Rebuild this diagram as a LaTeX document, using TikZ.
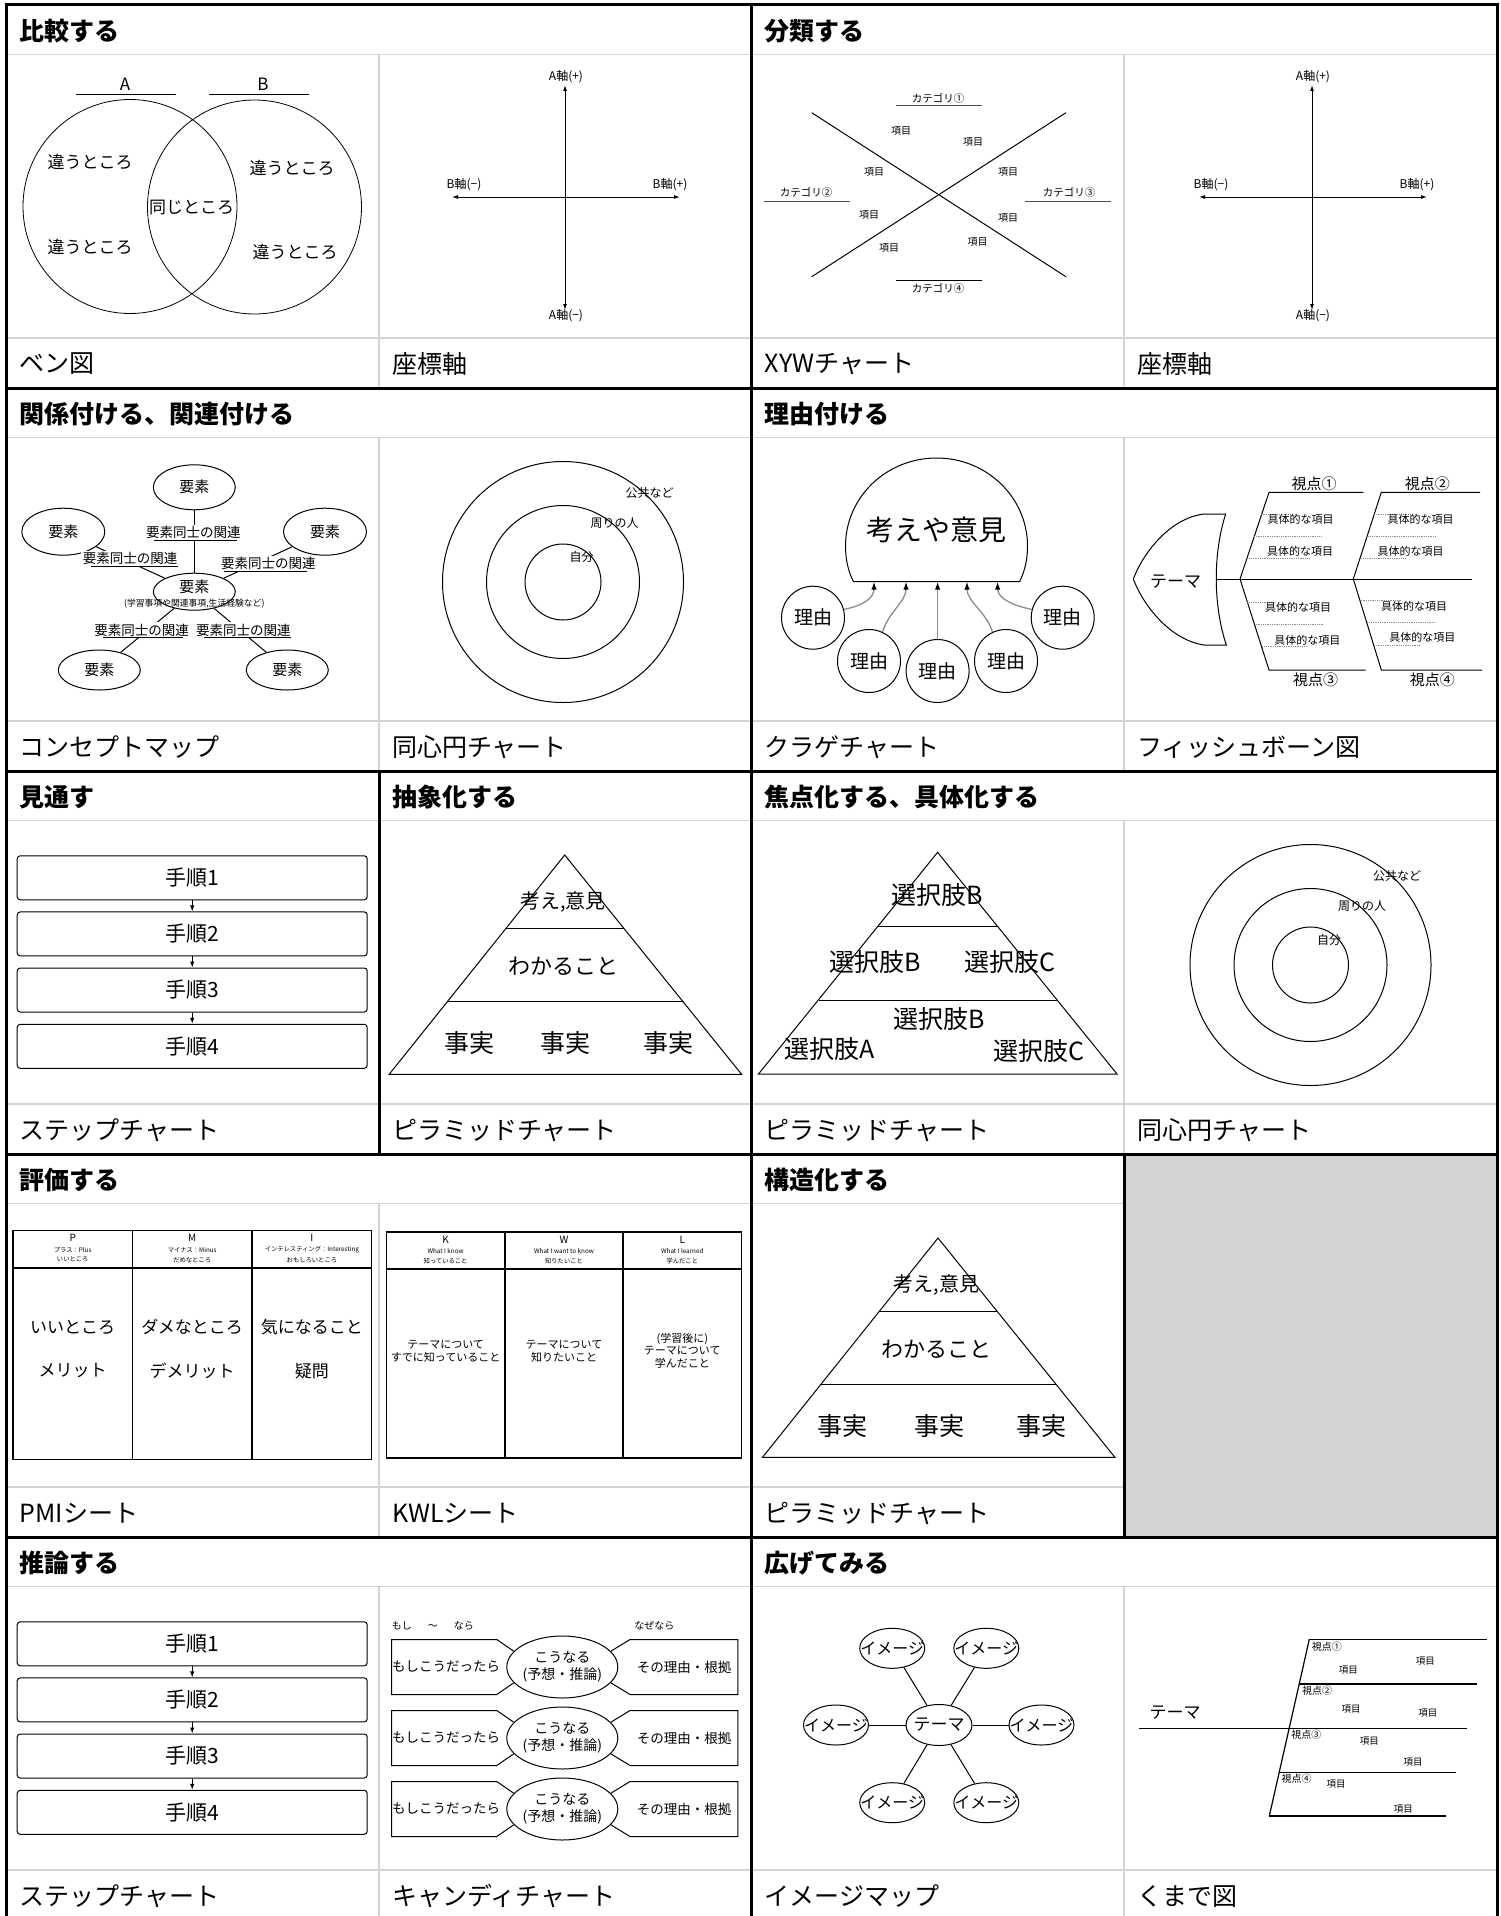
\documentclass[tikz,border=0pt]{standalone}
\usepackage{fontspec}
\setmainfont{Noto Sans CJK JP}
\usetikzlibrary{shapes.geometric,arrows.meta}

\definecolor{rulegray}{RGB}{212,212,212}
\definecolor{cellgray}{RGB}{211,211,211}
\definecolor{stemgray}{RGB}{140,140,140}

\begin{document}
\begin{tikzpicture}[x=1pt, y=-1pt,
  frameline/.style={line width=3pt, line cap=rect},
  lightrule/.style={line width=1.8pt, rulegray},
  heading/.style={anchor=west, inner sep=0pt, font=\bfseries\fontsize{25}{30}\selectfont},
  caption/.style={anchor=west, inner sep=0pt, font=\fontsize{25}{30}\selectfont},
  txt/.style={inner sep=0pt, font=\fontsize{#1}{#1}\selectfont},
  stroke/.style={line width=1pt},
  arrowhd/.style={line width=1pt, -{Latex[length=6pt,width=4.5pt]}},
  jelly/.style={stemgray, line width=1.3pt, -{Latex[length=8pt,width=5.5pt,color=black]}},
  ell/.style={ellipse, draw, line width=1pt, inner sep=0pt},
  rnd/.style={circle, draw, line width=1pt, inner sep=0pt},
  stepbox/.style={draw, line width=1pt, rounded corners=3pt, minimum width=350pt, minimum height=44pt, inner sep=0pt, font=\fontsize{21}{21}\selectfont},
  dotline/.style={densely dotted, line width=0.8pt, stemgray},
  tabline/.style={line width=1.2pt}
]
\useasboundingbox (0,0) rectangle (1501,1916); % page size

% light rules of the sheet
\foreach \ry in {5,388,771,1154,1537} {
  \draw[lightrule] (6,{\ry+49.5}) -- (1497,{\ry+49.5}); % heading rule
  \draw[lightrule] (6,{\ry+333}) -- (1497,{\ry+333}); % caption rule
}
\draw[lightrule] (379,54) -- (379,388); % row 1 split
\draw[lightrule] (1124,54) -- (1124,388);
\draw[lightrule] (379,437) -- (379,771); % row 2 split
\draw[lightrule] (1124,437) -- (1124,771);
\draw[lightrule] (1124,820) -- (1124,1154); % row 3 split
\draw[lightrule] (379,1203) -- (379,1537); % row 4 split
\draw[lightrule] (379,1586) -- (379,1916); % row 5 split
\draw[lightrule] (1124,1586) -- (1124,1916);
\fill[cellgray] (1124,1154) rectangle (1497,1537); % empty cell

% heavy frame
\draw[frameline] (6,5) -- (1497,5);
\draw[frameline] (6,388) -- (1497,388);
\draw[frameline] (6,771) -- (1497,771);
\draw[frameline] (6,1154) -- (1497,1154);
\draw[frameline] (6,1537) -- (1497,1537);
\draw[frameline] (6,5) -- (6,1920);
\draw[frameline] (1497,5) -- (1497,1920);
\draw[frameline] (751,5) -- (751,1920);
\draw[frameline] (379,771) -- (379,1154);
\draw[frameline] (1124,1154) -- (1124,1537);

% headings
\node[heading] (hCompare) at (19.5,31) {比較する};
\node[heading] (hClassify) at (764.5,31) {分類する};
\node[heading] (hRelate) at (19.5,414) {関係付ける、関連付ける};
\node[heading] (hReason) at (764.5,414) {理由付ける};
\node[heading] (hForesee) at (19.5,797) {見通す};
\node[heading] (hAbstract) at (392,797) {抽象化する};
\node[heading] (hFocus) at (764.5,797) {焦点化する、具体化する};
\node[heading] (hEvaluate) at (19.5,1180) {評価する};
\node[heading] (hStructure) at (764.5,1180) {構造化する};
\node[heading] (hInfer) at (19.5,1563) {推論する};
\node[heading] (hExpand) at (764.5,1563) {広げてみる};

% captions
\node[caption] (cVenn) at (19.5,364) {ベン図};
\node[caption] (cAxisL) at (392,364) {座標軸};
\node[caption] (cXYW) at (764.5,364) {XYWチャート};
\node[caption] (cAxisR) at (1137,364) {座標軸};
\node[caption] (cConcept) at (19.5,747) {コンセプトマップ};
\node[caption] (cRingsA) at (392,747) {同心円チャート};
\node[caption] (cJelly) at (764.5,747) {クラゲチャート};
\node[caption] (cFish) at (1137,747) {フィッシュボーン図};
\node[caption] (cStepA) at (19.5,1130) {ステップチャート};
\node[caption] (cPyrA) at (392,1130) {ピラミッドチャート};
\node[caption] (cPyrChoice) at (764.5,1130) {ピラミッドチャート};
\node[caption] (cRingsB) at (1137,1130) {同心円チャート};
\node[caption] (cPMI) at (19.5,1513) {PMIシート};
\node[caption] (cKWL) at (392,1513) {KWLシート};
\node[caption] (cPyrB) at (764.5,1513) {ピラミッドチャート};
\node[caption] (cStepB) at (19.5,1896) {ステップチャート};
\node[caption] (cCandy) at (392,1896) {キャンディチャート};
\node[caption] (cImage) at (764.5,1896) {イメージマップ};
\node[caption] (cRake) at (1137,1896) {くまで図};

% Venn diagram
\node[rnd, line width=0.8pt, minimum size=214pt] (setA) at (130,206.5) {}; % set A
\node[rnd, line width=0.8pt, minimum size=214pt] (setB) at (254.5,207) {}; % set B
\node[txt=17] (nameA) at (125,84) {A};
\draw[stroke] (76,94.5) -- (175.5,94.5); % bar under A
\node[txt=17] (nameB) at (263,84) {B};
\draw[stroke] (209,94.5) -- (309,94.5); % bar under B
\node[txt=17] (onlyA1) at (90,162) {違うところ};
\node[txt=17] (onlyA2) at (90,247) {違うところ};
\node[txt=17] (onlyB1) at (292,168) {違うところ};
\node[txt=17] (onlyB2) at (295,252) {違うところ};
\node[txt=17] (both) at (191.5,207) {同じところ};

% coordinate axes (two copies)
\foreach \dx/\nm in {0/L,747/R} {
  \coordinate (up\nm) at ({565+\dx},85);
  \coordinate (down\nm) at ({565+\dx},310);
  \coordinate (west\nm) at ({452+\dx},197);
  \coordinate (east\nm) at ({680+\dx},197);
  \draw[stroke, {Latex[length=6pt,width=4pt]}-{Latex[length=6pt,width=4pt]}] (down\nm) -- (up\nm); % A axis
  \draw[stroke, {Latex[length=6pt,width=4pt]}-{Latex[length=6pt,width=4pt]}] (west\nm) -- (east\nm); % B axis
  \node[txt=12] (aPlus\nm) at ({566+\dx},77) {A軸(+)};
  \node[txt=12] (aMinus\nm) at ({566+\dx},316) {A軸(−)};
  \node[txt=12] (bMinus\nm) at ({464+\dx},185) {B軸(−)};
  \node[txt=12] (bPlus\nm) at ({670+\dx},185) {B軸(+)};
}

% XYW chart
\draw[stroke] (811.7,112.7) -- (1065.9,276.7); % cross line
\draw[stroke] (811.7,276.7) -- (1065.9,112.7); % cross line
\node[txt=10.5] (cat1) at (938,98.5) {カテゴリ①};
\draw[stroke, black!70] (896,106) -- (981.5,106);
\node[txt=10.5] (cat2) at (806,192.5) {カテゴリ②};
\draw[stroke, black!70] (764,201) -- (850,201);
\node[txt=10.5] (cat3) at (1069,192.5) {カテゴリ③};
\draw[stroke, black!70] (1025,201) -- (1111,201);
\draw[stroke] (896,280.7) -- (981.5,280.7);
\node[txt=10.5] (cat4) at (938,288.5) {カテゴリ④};
\node[txt=10] (item1) at (901,130.7) {項目};
\node[txt=10] (item2) at (973,141.7) {項目};
\node[txt=10] (item3) at (874,171.7) {項目};
\node[txt=10] (item4) at (1008,171.7) {項目};
\node[txt=10] (item5) at (869,215) {項目};
\node[txt=10] (item6) at (1008,217.7) {項目};
\node[txt=10] (item7) at (889,247.7) {項目};
\node[txt=10] (item8) at (977.6,241.7) {項目};

% concept map
\node[ell, minimum width=82pt, minimum height=45pt, font=\fontsize{15}{15}\selectfont] (elemTop) at (194.3,487.3) {要素};
\node[ell, minimum width=83pt, minimum height=47pt, font=\fontsize{15}{15}\selectfont] (elemLeft) at (63.3,531.7) {要素};
\node[ell, minimum width=83pt, minimum height=47pt, font=\fontsize{15}{15}\selectfont] (elemRight) at (325,531.7) {要素};
\node[ell, minimum width=82pt, minimum height=37pt] (elemMid) at (194.3,591.7) {};
\node[ell, minimum width=82pt, minimum height=40pt, font=\fontsize{15}{15}\selectfont] (elemBL) at (99.3,670) {要素};
\node[ell, minimum width=82pt, minimum height=40pt, font=\fontsize{15}{15}\selectfont] (elemBR) at (287.3,670) {要素};
\node[txt=15] (midName) at (194.3,586.7) {要素};
\node[txt=8.8] (midNote) at (194.3,604) {(学習事項や関連事項,生活経験など)};
\draw[stroke] (elemTop) -- (elemMid);
\draw[stroke] (elemLeft) -- (elemMid);
\draw[stroke] (elemRight) -- (elemMid);
\draw[stroke] (elemMid) -- (elemBL);
\draw[stroke] (elemMid) -- (elemBR);
\node[txt=13.5, fill=white, inner sep=1.5pt] (link1) at (193.3,532.7) {要素同士の関連};
\draw[stroke] ([xshift=10pt]link1.south west) -- ([xshift=-5pt]link1.south east);
\node[txt=13.5, fill=white, inner sep=1.5pt] (link2) at (130,558.3) {要素同士の関連};
\draw[stroke] ([xshift=10pt]link2.south west) -- ([xshift=-1pt]link2.south east);
\node[txt=13.5, fill=white, inner sep=1.5pt] (link3) at (268.3,563.3) {要素同士の関連};
\draw[stroke] ([xshift=5pt]link3.south west) -- ([xshift=-10pt]link3.south east);
\node[txt=13.5, fill=white, inner sep=1.5pt] (link4) at (141.7,630) {要素同士の関連};
\draw[stroke] ([xshift=10pt]link4.south west) -- ([xshift=-8pt]link4.south east);
\node[txt=13.5, fill=white, inner sep=1.5pt] (link5) at (243.3,630) {要素同士の関連};
\draw[stroke] ([xshift=10pt]link5.south west) -- ([xshift=-1pt]link5.south east);

% concentric circle charts (two copies)
\foreach \dx/\dy/\nm in {0/0/a,747.5/383/b} {
  \node[rnd, minimum size=241pt] (public\nm) at ({563+\dx},{582+\dy}) {};
  \node[rnd, minimum size=153pt] (people\nm) at ({563+\dx},{582+\dy}) {};
  \node[rnd, minimum size=76pt] (self\nm) at ({563+\dx},{582+\dy}) {};
  \node[txt=12] (publicName\nm) at ({649.5+\dx},{493.3+\dy}) {公共など};
  \node[txt=12] (peopleName\nm) at ({614.6+\dx},{523.3+\dy}) {周りの人};
  \node[txt=12] (selfName\nm) at ({581.7+\dx},{556.7+\dy}) {自分};
}

% jellyfish chart
\draw[stroke] (853.5,581.7) .. controls (848,571) and (845.5,559) .. (845.5,546)
  .. controls (845.5,497.4) and (886.2,458) .. (936.5,458)
  .. controls (986.8,458) and (1027.5,497.4) .. (1027.5,546)
  .. controls (1027.5,559) and (1025,571) .. (1019.5,581.7) -- cycle; % head
\node[txt=28] (opinion) at (936.5,530) {考えや意見};
\coordinate (foot1) at (874,581.7);
\coordinate (foot2) at (906,581.7);
\coordinate (foot3) at (937.6,581.7);
\coordinate (foot4) at (967,581.7);
\coordinate (foot5) at (997.6,581.7);
\node[rnd, minimum size=63pt, font=\fontsize{19}{19}\selectfont] (why1) at (813,617.7) {理由};
\node[rnd, minimum size=63pt, font=\fontsize{19}{19}\selectfont] (why2) at (869,661) {理由};
\node[rnd, minimum size=63pt, font=\fontsize{19}{19}\selectfont] (why3) at (937.6,671) {理由};
\node[rnd, minimum size=63pt, font=\fontsize{19}{19}\selectfont] (why4) at (1006,661) {理由};
\node[rnd, minimum size=63pt, font=\fontsize{19}{19}\selectfont] (why5) at (1062.7,617.7) {理由};
\draw[jelly] (why1.15) .. controls +(20,-4) and +(0,16) .. (foot1);
\draw[jelly] (why2.65) .. controls +(6,-20) and +(0,20) .. (foot2);
\draw[jelly] (why3.north) -- (foot3);
\draw[jelly] (why4.115) .. controls +(-6,-20) and +(0,20) .. (foot4);
\draw[jelly] (why5.165) .. controls +(-20,-4) and +(0,16) .. (foot5);

% fishbone chart
\draw[stroke] (1225.7,514) -- (1204,514) .. controls (1170,518) and (1143,553) .. (1133.3,579)
  .. controls (1143,605) and (1170,640) .. (1204,645) -- (1226.3,645)
  .. controls (1213,605) and (1213,553) .. cycle; % fish head
\node[txt=17] (fishTheme) at (1175.7,581.7) {テーマ};
\draw[stroke] (1216,579) -- (1472.3,579); % spine
\draw[stroke] (1240,579) -- (1269,492.3) -- (1363.3,492.3); % bone 1
\draw[stroke] (1353.3,579) -- (1381.3,492.3) -- (1480,492.3); % bone 2
\draw[stroke] (1240,579) -- (1269,670) -- (1365.7,670); % bone 3
\draw[stroke] (1353.3,579) -- (1381.3,670) -- (1482,670); % bone 4
\node[txt=15] (view1) at (1314,483.3) {視点①};
\node[txt=15] (view2) at (1427.3,483.3) {視点②};
\node[txt=15] (view3) at (1315.7,680) {視点③};
\node[txt=15] (view4) at (1432.3,680) {視点④};
\draw[dotline] (1260.7,514.3) -- (1290.7,514.3);
\draw[dotline] (1254,536) -- (1320.7,536);
\draw[dotline] (1247.3,558.3) -- (1309,558.3);
\draw[dotline] (1374,514.3) -- (1410.7,514.3);
\draw[dotline] (1368.3,536) -- (1435.7,536);
\draw[dotline] (1361.3,558.3) -- (1405.7,558.3);
\draw[dotline] (1247.3,602.3) -- (1275.7,602.3);
\draw[dotline] (1255.7,624) -- (1323.3,624);
\draw[dotline] (1262.3,646.7) -- (1307.3,646.7);
\draw[dotline] (1360.7,600.7) -- (1400.7,600.7);
\draw[dotline] (1367.3,622.7) -- (1435.7,622.7);
\draw[dotline] (1374,645) -- (1420.7,645);
\node[txt=11] (fact1) at (1300.7,519.3) {具体的な項目};
\node[txt=11] (fact2) at (1300,551.7) {具体的な項目};
\node[txt=11] (fact3) at (1420.7,519.3) {具体的な項目};
\node[txt=11] (fact4) at (1410.7,551.7) {具体的な項目};
\node[txt=11] (fact5) at (1298,607.3) {具体的な項目};
\node[txt=11] (fact6) at (1307.3,640) {具体的な項目};
\node[txt=11] (fact7) at (1414,606) {具体的な項目};
\node[txt=11] (fact8) at (1422.3,637.7) {具体的な項目};

% step charts (two copies)
\foreach \dy/\nm in {0/a,766/b} {
  \node[stepbox] (\nm step1) at (192.2,{877.8+\dy}) {手順1};
  \node[stepbox] (\nm step2) at (192.2,{933.9+\dy}) {手順2};
  \node[stepbox] (\nm step3) at (192.2,{990+\dy}) {手順3};
  \node[stepbox] (\nm step4) at (192.2,{1046.3+\dy}) {手順4};
  \draw[arrowhd] (\nm step1) -- (\nm step2);
  \draw[arrowhd] (\nm step2) -- (\nm step3);
  \draw[arrowhd] (\nm step3) -- (\nm step4);
}

% pyramid charts (two copies)
\foreach \dx/\dy/\nm in {0/0/a,373.3/383/b} {
  \draw[stroke] ({564.7+\dx},{855+\dy}) -- ({741.6+\dx},{1074.3+\dy}) -- ({389.2+\dx},{1074.3+\dy}) -- cycle; % outline
  \draw[stroke] ({505.8+\dx},{928.3+\dy}) -- ({623.6+\dx},{928.3+\dy}); % top tier
  \draw[stroke] ({446.8+\dx},{1001.7+\dy}) -- ({682.6+\dx},{1001.7+\dy}); % middle tier
  \node[txt=20] (idea\nm) at ({563+\dx},{901.7+\dy}) {考え,意見};
  \node[txt=22] (know\nm) at ({563+\dx},{966.7+\dy}) {わかること};
  \node[txt=25] (factA\nm) at ({469+\dx},{1043.3+\dy}) {事実};
  \node[txt=25] (factB\nm) at ({565.7+\dx},{1043.3+\dy}) {事実};
  \node[txt=25] (factC\nm) at ({668+\dx},{1043.3+\dy}) {事実};
}

% choice pyramid
\draw[stroke] (937.6,852.3) -- (1117,1074) -- (758.5,1074) -- cycle; % outline
\draw[stroke] (878.1,926) -- (997.2,926); % top tier
\draw[stroke] (818.8,1000) -- (1056.8,1000); % middle tier
\node[txt=25] (pick1) at (937.6,895) {選択肢B};
\node[txt=25] (pick2) at (875.6,962.3) {選択肢B};
\node[txt=25] (pick3) at (1009.8,962.3) {選択肢C};
\node[txt=25] (pick4) at (939,1019) {選択肢B};
\node[txt=25] (pick5) at (830,1049) {選択肢A};
\node[txt=25] (pick6) at (1038.5,1051) {選択肢C};

% PMI sheet
\draw[tabline] (13,1230.7) rectangle (371.8,1459.7);
\draw[tabline] (13,1268) -- (371.8,1268);
\draw[tabline] (132.3,1230.7) -- (132.3,1459.7);
\draw[tabline] (252,1230.7) -- (252,1459.7);
\node[txt=10] (pmiP) at (72.7,1238) {P};
\node[txt=6.3] (pmiP1) at (72.7,1249.7) {プラス：Plus};
\node[txt=6.3] (pmiP2) at (72.7,1259.7) {いいところ};
\node[txt=10] (pmiM) at (192.2,1238) {M};
\node[txt=6.3] (pmiM1) at (192.2,1249.7) {マイナス：Minus};
\node[txt=6.3] (pmiM2) at (192.2,1259.7) {だめなところ};
\node[txt=10] (pmiI) at (311.9,1238) {I};
\node[txt=6.3] (pmiI1) at (311.9,1249.7) {インテレスティング：Interesting};
\node[txt=6.3] (pmiI2) at (311.9,1259.7) {おもしろいところ};
\node[txt=17] (good) at (72.7,1327) {いいところ};
\node[txt=17] (merit) at (72.7,1370.7) {メリット};
\node[txt=17] (bad) at (192.2,1327) {ダメなところ};
\node[txt=17] (demerit) at (192.2,1370.7) {デメリット};
\node[txt=17] (curious) at (311.9,1327) {気になること};
\node[txt=17] (question) at (311.9,1370.7) {疑問};

% KWL sheet
\draw[tabline] (386.3,1232) rectangle (741.6,1458);
\draw[tabline] (386.3,1269) -- (741.6,1269);
\draw[tabline] (505,1232) -- (505,1458);
\draw[tabline] (622.9,1232) -- (622.9,1458);
\node[txt=10] (kwlK) at (445.6,1239.7) {K};
\node[txt=6.3] (kwlK1) at (445.6,1250.7) {What I know};
\node[txt=6.3] (kwlK2) at (445.6,1260.7) {知っていること};
\node[txt=10] (kwlW) at (564,1239.7) {W};
\node[txt=6.3] (kwlW1) at (564,1250.7) {What I want to know};
\node[txt=6.3] (kwlW2) at (564,1260.7) {知りたいこと};
\node[txt=10] (kwlL) at (682.3,1239.7) {L};
\node[txt=6.3] (kwlL1) at (682.3,1250.7) {What I learned};
\node[txt=6.3] (kwlL2) at (682.3,1260.7) {学んだこと};
\node[inner sep=0pt, align=center, font=\fontsize{11}{12.7}\selectfont] (known) at (445.6,1351) {テーマについて\\すでに知っていること};
\node[inner sep=0pt, align=center, font=\fontsize{11}{12.7}\selectfont] (wanted) at (564,1351) {テーマについて\\知りたいこと};
\node[inner sep=0pt, align=center, font=\fontsize{11}{12.7}\selectfont] (learned) at (682.3,1350.7) {(学習後に)\\テーマについて\\学んだこと};

% candy chart
\node[txt=10, anchor=west] (ifHead) at (391.7,1625.7) {もし\hspace{1.6em}〜\hspace{1.6em}なら};
\node[txt=10] (whyHead) at (654.4,1625.7) {なぜなら};
\foreach \cy/\nm in {1667/1,1738/2,1809/3} {
  \node[ell, minimum width=111pt, minimum height=62pt] (candy\nm) at (562.3,\cy) {};
  \node[inner sep=0pt, align=center, font=\fontsize{14}{17}\selectfont] (result\nm) at (candy\nm) {こうなる\\(予想・推論)};
  \draw[stroke] (candy\nm.162) -- (496.8,{\cy-27.5}) -- (391.7,{\cy-27.5}) -- (391.7,{\cy+27.5}) -- (496.8,{\cy+27.5}) -- (candy\nm.198); % left wrapper
  \draw[stroke] (candy\nm.18) -- (630,{\cy-27.5}) -- (737.8,{\cy-27.5}) -- (737.8,{\cy+27.5}) -- (630,{\cy+27.5}) -- (candy\nm.-18); % right wrapper
  \node[txt=13.5] (cond\nm) at (446,\cy) {もしこうだったら};
  \node[txt=13.5] (ground\nm) at (684,\cy) {その理由・根拠};
}

% image map
\node[ell, minimum width=66pt, minimum height=41pt, font=\fontsize{17}{17}\selectfont] (theme) at (939,1725) {\makebox[0pt]{テーマ}};
\node[ell, minimum width=65pt, minimum height=40pt, font=\fontsize{16}{16}\selectfont] (img1) at (892.2,1648.3) {\makebox[0pt]{イメージ}};
\node[ell, minimum width=65pt, minimum height=40pt, font=\fontsize{16}{16}\selectfont] (img2) at (986.3,1648.3) {\makebox[0pt]{イメージ}};
\node[ell, minimum width=65pt, minimum height=40pt, font=\fontsize{16}{16}\selectfont] (img3) at (836,1725) {\makebox[0pt]{イメージ}};
\node[ell, minimum width=65pt, minimum height=40pt, font=\fontsize{16}{16}\selectfont] (img4) at (1041.5,1725) {\makebox[0pt]{イメージ}};
\node[ell, minimum width=65pt, minimum height=40pt, font=\fontsize{16}{16}\selectfont] (img5) at (892.2,1802.7) {\makebox[0pt]{イメージ}};
\node[ell, minimum width=65pt, minimum height=40pt, font=\fontsize{16}{16}\selectfont] (img6) at (986.3,1802.7) {\makebox[0pt]{イメージ}};
\draw[stroke] (theme) -- (img1);
\draw[stroke] (theme) -- (img2);
\draw[stroke] (theme) -- (img3);
\draw[stroke] (theme) -- (img4);
\draw[stroke] (theme) -- (img5);
\draw[stroke] (theme) -- (img6);

% rake chart
\node[txt=17] (rakeTheme) at (1175,1712.7) {テーマ};
\draw[tabline] (1139,1728.3) -- (1466.8,1728.3); % handle
\draw[tabline] (1309.3,1639.3) -- (1269.3,1816); % head bar
\draw[tabline] (1309.3,1639.3) -- (1487.3,1639.3); % tine 1
\draw[tabline] (1299.2,1684) -- (1476.6,1684); % tine 2
\draw[tabline] (1279.2,1772.3) -- (1455.6,1772.3); % tine 4
\draw[tabline] (1269.3,1816) -- (1446.3,1816); % tine 5
\node[txt=10, anchor=west] (rakeView1) at (1311.7,1646.7) {視点①};
\node[txt=10, anchor=west] (rakeView2) at (1302,1690.7) {視点②};
\node[txt=10, anchor=west] (rakeView3) at (1291.2,1735) {視点③};
\node[txt=10, anchor=west] (rakeView4) at (1281.5,1778.3) {視点④};
\node[txt=9.5] (rakeItem1) at (1425.4,1661) {項目};
\node[txt=9.5] (rakeItem2) at (1348.3,1670) {項目};
\node[txt=9.5] (rakeItem3) at (1351.2,1709.3) {項目};
\node[txt=9.5] (rakeItem4) at (1427.8,1712.7) {項目};
\node[txt=9.5] (rakeItem5) at (1369.3,1741) {項目};
\node[txt=9.5] (rakeItem6) at (1413.2,1762.3) {項目};
\node[txt=9.5] (rakeItem7) at (1336,1784) {項目};
\node[txt=9.5] (rakeItem8) at (1403.4,1809.3) {項目};

\end{tikzpicture}
\end{document}
